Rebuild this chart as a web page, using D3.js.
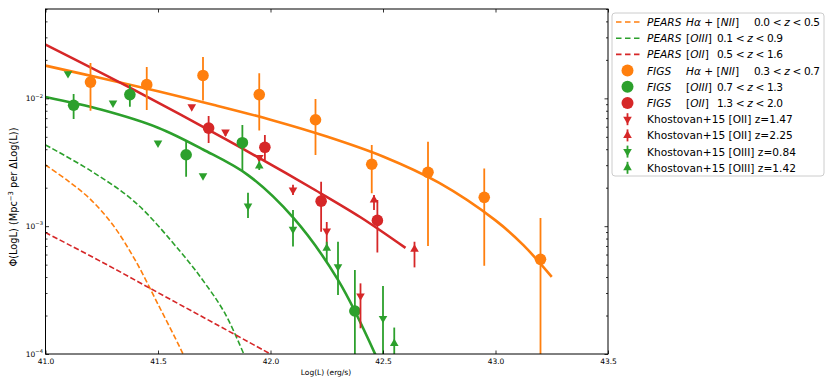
<!DOCTYPE html>
<html>
<head>
<meta charset="utf-8">
<title>Luminosity functions</title>
<style>
  body { margin: 0; background: #fff; }
  text { font-family: "DejaVu Sans", sans-serif; fill: #000; }
</style>
</head>
<body>
<svg width="830" height="388"></svg>

<script src="https://cdn.jsdelivr.net/npm/d3@7/dist/d3.min.js"></script>
<script>
// FIGS points: log L, phi, and the low / high ends of each error bar
var figsHaLogL = [41.20, 41.45, 41.70, 41.95, 42.20, 42.45, 42.70, 42.95, 43.20];
var figsHaPhi  = [0.0134, 0.0128, 0.0151, 0.0107, 0.0068, 0.00305, 0.00264, 0.00168, 0.00055];
var figsHaLo   = [0.0080, 0.0081, 0.0096, 0.0056, 0.0036, 0.00181, 0.00070, 0.00049, 0.00003];
var figsHaHi   = [0.0189, 0.0176, 0.0211, 0.0157, 0.0099, 0.00432, 0.00458, 0.00282, 0.00116];

var figsO3LogL = [41.125, 41.375, 41.625, 41.875, 42.375];
var figsO3Phi  = [0.00883, 0.0107, 0.00362, 0.0045, 0.000217];
var figsO3Lo   = [0.0069, 0.0086, 0.00244, 0.00272, 0.00003];
var figsO3Hi   = [0.0108, 0.0128, 0.00465, 0.0062, 0.000454];

var figsO2LogL = [41.725, 41.975, 42.225, 42.475];
var figsO2Phi  = [0.00585, 0.00414, 0.00157, 0.00111];
var figsO2Lo   = [0.00448, 0.0033, 0.000905, 0.000621];
var figsO2Hi   = [0.00728, 0.00516, 0.00223, 0.0016];

// Khostovan+15 points
var k15O2aLogL = [41.65, 41.80, 41.95, 42.10, 42.25, 42.40];   // [OII] z=1.47
var k15O2aPhi  = [0.0086, 0.00546, 0.00345, 0.00192, 0.000916, 0.000285];
var k15O2aLo   = [0.0086, 0.00508, 0.0032, 0.00175, 0.000652, 0.000159];
var k15O2aHi   = [0.0086, 0.00546, 0.0036, 0.00211, 0.00108, 0.000357];

var k15O2bLogL = [42.46, 42.64];                                // [OII] z=2.25
var k15O2bPhi  = [0.0016, 0.000659];
var k15O2bLo   = [0.00134, 0.000476];
var k15O2bHi   = [0.00175, 0.000757];

var k15O3aLogL = [41.10, 41.30, 41.50, 41.70, 41.90, 42.10, 42.30, 42.50];   // [OIII] z=0.84
var k15O3aPhi  = [0.0156, 0.0092, 0.00448, 0.00248, 0.00144, 0.000946, 0.000482, 0.00019];
var k15O3aLo   = [0.0156, 0.0092, 0.00448, 0.00248, 0.00116, 0.000692, 0.00029, 0.00003];
var k15O3aHi   = [0.0156, 0.0092, 0.00448, 0.00248, 0.00183, 0.00134, 0.000757, 0.00034];

var k15O3bLogL = [41.95, 42.25, 42.55];                         // [OIII] z=1.42
var k15O3bPhi  = [0.00296, 0.000671, 0.000121];
var k15O3bLo   = [0.00275, 0.000527, 0.00003];
var k15O3bHi   = [0.0032, 0.000757, 0.000161];

// fitted curves (solid)
var fitHaLogL = [41.0, 41.25, 41.5, 41.75, 42.0, 42.25, 42.5, 42.75, 43.0, 43.125, 43.25];
var fitHaPhi  = [0.01803, 0.01435, 0.01135, 0.00887, 0.00681, 0.00503, 0.00351, 0.00218, 0.00111, 0.000708, 0.000401];
var fitO3LogL = [41.0, 41.25, 41.5, 41.7, 41.9, 42.1, 42.3, 42.47];
var fitO3Phi  = [0.01023, 0.00813, 0.00589, 0.00398, 0.00251, 0.00117, 0.00038, 0.0000955];
var fitO2LogL = [41.0, 41.4, 41.8, 42.2, 42.4, 42.6];
var fitO2Phi  = [0.0263, 0.01148, 0.00479, 0.00191, 0.001175, 0.000676];

// PEARS curves (dashed)
var pearsHaLogL = [41.0, 41.1, 41.2, 41.3, 41.4, 41.5, 41.6, 41.65];
var pearsHaPhi  = [0.00301, 0.00226, 0.00162, 0.00102, 0.000537, 0.000245, 0.00011, 0.0000708];
var pearsO3LogL = [41.0, 41.2, 41.4, 41.6, 41.7, 41.8, 41.9];
var pearsO3Phi  = [0.00432, 0.00272, 0.00153, 0.00063, 0.000376, 0.000204, 0.0000832];
var pearsO2LogL = [41.0, 41.25, 41.5, 41.75, 42.0];
var pearsO2Phi  = [0.000891, 0.000525, 0.000302, 0.000174, 0.0001];

var xTicks = [41.0, 41.5, 42.0, 42.5, 43.0, 43.5];
var yTicks = [1e-4, 1e-3, 1e-2];
var yTickExp = ["\u22124", "\u22123", "\u22122"];

var legendText = [
  ["PEARS", "H\u03b1 + [NII]", "0.0 < z < 0.5"],
  ["PEARS", "[OIII]", "0.1 < z < 0.9"],
  ["PEARS", "[OII]", "0.5 < z < 1.6"],
  ["FIGS", "H\u03b1 + [NII]", "0.3 < z < 0.7"],
  ["FIGS", "[OIII]", "0.7 < z < 1.3"],
  ["FIGS", "[OII]", "1.3 < z < 2.0"],
  ["Khostovan+15 [OII] z=1.47"],
  ["Khostovan+15 [OII] z=2.25"],
  ["Khostovan+15 [OIII] z=0.84"],
  ["Khostovan+15 [OIII] z=1.42"]
];

var orange = "#ff7f0e", green = "#2ca02c", red = "#d62728";

var svg = d3.select("svg");
var x = d3.scaleLinear().domain([41, 43.5]).range([45.5, 608]);
var y = d3.scaleLog().domain([1e-4, 0.05]).range([354, 9]);

svg.append("defs").append("clipPath").attr("id", "plotclip")
  .append("rect").attr("x", 45.5).attr("y", 9).attr("width", 562.5).attr("height", 345);

var plot = svg.append("g").attr("clip-path", "url(#plotclip)");

function zip(a, b) { return a.map(function (v, i) { return [v, b[i]]; }); }

var line = d3.line().x(d => x(d[0])).y(d => y(d[1])).curve(d3.curveCatmullRom);

// solid fits
var fits = [[fitHaLogL, fitHaPhi, orange], [fitO3LogL, fitO3Phi, green], [fitO2LogL, fitO2Phi, red]];
fits.forEach(function (f) {
  plot.append("path").attr("d", line(zip(f[0], f[1])))
    .attr("fill", "none").attr("stroke", f[2]).attr("stroke-width", 2.6);
});

// dashed PEARS
var pears = [[pearsHaLogL, pearsHaPhi, orange], [pearsO3LogL, pearsO3Phi, green], [pearsO2LogL, pearsO2Phi, red]];
pears.forEach(function (f) {
  plot.append("path").attr("d", line(zip(f[0], f[1])))
    .attr("fill", "none").attr("stroke", f[2]).attr("stroke-width", 1.6)
    .attr("stroke-dasharray", "5.5,2.5");
});

function points(xs, ys, lo, hi) {
  return xs.map(function (v, i) { return {x: v, y: ys[i], lo: lo[i], hi: hi[i]}; });
}

function errorBars(data, color) {
  plot.selectAll(null).data(data).enter().append("line")
    .attr("x1", d => x(d.x)).attr("x2", d => x(d.x))
    .attr("y1", d => y(d.lo)).attr("y2", d => y(d.hi))
    .attr("stroke", color).attr("stroke-width", 1.8);
}

// FIGS circles
var figs = [
  [points(figsHaLogL, figsHaPhi, figsHaLo, figsHaHi), orange],
  [points(figsO3LogL, figsO3Phi, figsO3Lo, figsO3Hi), green],
  [points(figsO2LogL, figsO2Phi, figsO2Lo, figsO2Hi), red]
];
figs.forEach(function (s) {
  errorBars(s[0], s[1]);
  plot.selectAll(null).data(s[0]).enter().append("circle")
    .attr("cx", d => x(d.x)).attr("cy", d => y(d.y)).attr("r", 5.8)
    .attr("fill", s[1]);
});

// Khostovan triangles
var tri = d3.symbol().type(d3.symbolTriangle).size(32);
var k15 = [
  [points(k15O2aLogL, k15O2aPhi, k15O2aLo, k15O2aHi), red, 180],
  [points(k15O2bLogL, k15O2bPhi, k15O2bLo, k15O2bHi), red, 0],
  [points(k15O3aLogL, k15O3aPhi, k15O3aLo, k15O3aHi), green, 180],
  [points(k15O3bLogL, k15O3bPhi, k15O3bLo, k15O3bHi), green, 0]
];
k15.forEach(function (s) {
  errorBars(s[0], s[1]);
  plot.selectAll(null).data(s[0]).enter().append("path")
    .attr("d", tri)
    .attr("transform", d => "translate(" + x(d.x) + "," + y(d.y) + ") rotate(" + s[2] + ")")
    .attr("fill", s[1]);
});

// axes, ticks inward on all four sides
function styleAxis(g) {
  g.select(".domain").remove();
  g.selectAll(".tick line").attr("stroke", "#000").attr("stroke-width", 0.8);
  g.selectAll("text").attr("font-size", 7.5).attr("font-family", "DejaVu Sans");
}

var minorTicks = [];
[1e-4, 1e-3, 1e-2].forEach(function (b) {
  for (var k = 2; k <= 9; k++) if (b * k <= 0.05) minorTicks.push(b * k);
});

svg.append("g").attr("transform", "translate(0,354)")
  .call(d3.axisBottom(x).tickValues(xTicks).tickFormat(d3.format(".1f")).tickSize(-3.5).tickPadding(4.5))
  .call(styleAxis);
svg.append("g").attr("transform", "translate(0,9)")
  .call(d3.axisTop(x).tickValues(xTicks).tickFormat("").tickSize(-3.5))
  .call(styleAxis);
svg.append("g").attr("transform", "translate(45.5,0)")
  .call(d3.axisLeft(y).tickValues(yTicks).tickFormat("").tickSize(-3.5))
  .call(styleAxis);
svg.append("g").attr("transform", "translate(45.5,0)")
  .call(d3.axisLeft(y).tickValues(minorTicks).tickFormat("").tickSize(-2))
  .call(styleAxis);
svg.append("g").attr("transform", "translate(608,0)")
  .call(d3.axisRight(y).tickValues(yTicks).tickFormat("").tickSize(-3.5))
  .call(styleAxis);
svg.append("g").attr("transform", "translate(608,0)")
  .call(d3.axisRight(y).tickValues(minorTicks).tickFormat("").tickSize(-2))
  .call(styleAxis);

svg.append("rect").attr("x", 45.5).attr("y", 9).attr("width", 562.5).attr("height", 345)
  .attr("fill", "none").attr("stroke", "#000").attr("stroke-width", 1);

// y tick labels as 10^n
yTicks.forEach(function (v, i) {
  var t = svg.append("text").attr("x", 43).attr("y", y(v) + 2.5)
    .attr("text-anchor", "end").attr("font-size", 7.5);
  t.append("tspan").text("10");
  t.append("tspan").attr("dy", -3.2).attr("font-size", 5.2).text(yTickExp[i]);
});

// axis labels
svg.append("text").attr("x", 326).attr("y", 375).attr("text-anchor", "middle")
  .attr("font-size", 7.5).text("Log(L) (erg/s)");

var yl = svg.append("text").attr("transform", "translate(16.5,197) rotate(-90)")
  .attr("text-anchor", "middle").attr("font-size", 9.8);
yl.append("tspan").text("\u03a6(LogL) (Mpc");
yl.append("tspan").attr("dy", -3.5).attr("font-size", 6.8).text("\u22123");
yl.append("tspan").attr("dy", 3.5).text(" per \u0394Log(L))");

// legend
var lg = svg.append("g");
lg.append("rect").attr("x", 612).attr("y", 13).attr("width", 212).attr("height", 163)
  .attr("rx", 3).attr("fill", "#fff").attr("stroke", "#cccccc").attr("stroke-width", 1);

var handles = [
  ["dash", orange], ["dash", green], ["dash", red],
  ["circle", orange], ["circle", green], ["circle", red],
  ["down", red], ["up", red], ["down", green], ["up", green]
];

function mathText(sel, str) {
  // letters italic, digits and symbols upright, like matplotlib mathtext
  var runs = str.match(/[A-Za-z\u03b1-\u03c9]+|[^A-Za-z\u03b1-\u03c9]+/g);
  runs.forEach(function (r) {
    sel.append("tspan").attr("font-style", /[A-Za-z\u03b1-\u03c9]/.test(r) ? "italic" : "normal")
      .text(r);
  });
}

legendText.forEach(function (segs, i) {
  var cy = 22 + i * 16.2;
  var h = handles[i];
  if (h[0] === "dash") {
    lg.append("line").attr("x1", 616).attr("x2", 640).attr("y1", cy).attr("y2", cy)
      .attr("stroke", h[1]).attr("stroke-width", 1.6).attr("stroke-dasharray", "5.5,3.5");
  } else if (h[0] === "circle") {
    lg.append("circle").attr("cx", 627.5).attr("cy", cy).attr("r", 6).attr("fill", h[1]);
  } else {
    lg.append("line").attr("x1", 627.5).attr("x2", 627.5).attr("y1", cy - 6).attr("y2", cy + 6)
      .attr("stroke", h[1]).attr("stroke-width", 1.8);
    lg.append("path").attr("d", tri)
      .attr("transform", "translate(627.5," + cy + ") rotate(" + (h[0] === "down" ? 180 : 0) + ")")
      .attr("fill", h[1]);
  }
  if (segs.length === 1) {
    lg.append("text").attr("x", 647).attr("y", cy + 4).attr("font-size", 10.6).text(segs[0]);
  } else {
    var xs = [647, 686, segs[1].indexOf("+") >= 0 ? 754 : 717];
    segs.forEach(function (s, j) {
      var t = lg.append("text").attr("x", xs[j]).attr("y", cy + 4).attr("font-size", 10.6);
      if (j === 2) t.attr("textLength", 66).attr("lengthAdjust", "spacing");
      mathText(t, s);
    });
  }
});
</script>
</body>
</html>
